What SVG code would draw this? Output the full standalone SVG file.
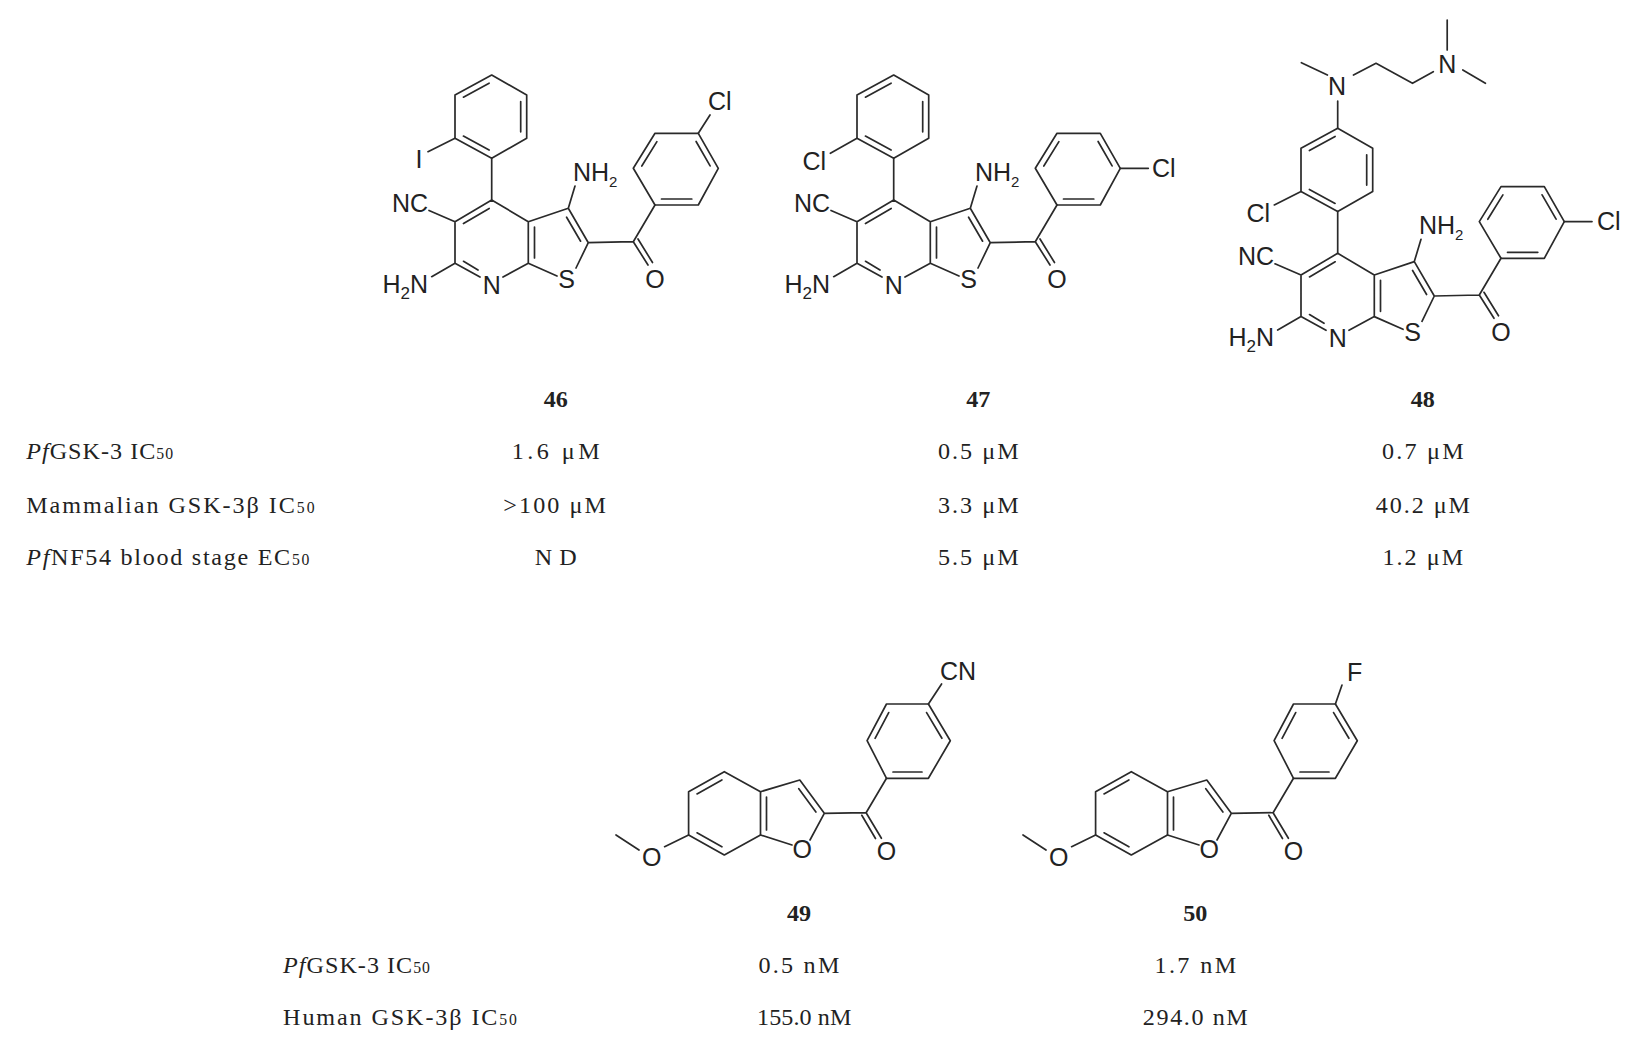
<svg xmlns="http://www.w3.org/2000/svg" xmlns:xlink="http://www.w3.org/1999/xlink" width="1644" height="1053" viewBox="0 0 1644 1053">
<style>
.b{stroke:#2a2a2a;stroke-width:1.7;fill:none;stroke-linejoin:round;stroke-linecap:round}
.a{font-family:"Liberation Sans",Arial,sans-serif;font-size:25px;fill:#222}
.t{font-family:"Liberation Serif","Times New Roman",serif;font-size:23px;fill:#222}
.n{font-weight:bold;text-anchor:middle}
.v{text-anchor:middle}
.s{font-size:15px}
</style>
<defs>
<g id="core">
<path class="b" d="M491.7,200L455,221.7L455,263.3L480,277M503,277L528.3,263.3L528.3,221.7L491.7,200M489.2,208.5L463.5,223.6M463.5,261.3L478,270M528.3,221.7L568.3,208.3L588.3,242.7L576,268M557,276L528.3,263.3M534.5,227L534.5,258M566.6,217.2L580.6,241.2M568.3,208.3L575,186M455,221.7L429,210.5M455,263.3L431.7,276.7M588.3,242.7L633.3,241.7L648,265M638,239L652.5,262.5M633.3,241.7L655,205"/>
<polygon class="b" points="655,205 698.3,205 718.3,168.3 698.3,133.3 655,133.3 633.3,168.3"/>
<path class="b" d="M661.5,199L691.8,199M710.1,165.9L696.1,141.5M656.9,141.6L641.8,166"/>
<text class="a" x="573" y="181">NH<tspan class="s" font-size="17" dy="6">2</tspan></text>
<text class="a" x="428" y="212" text-anchor="end">NC</text>
<text class="a" x="428" y="293" text-anchor="end">H<tspan font-size="17" dy="6">2</tspan><tspan dy="-6">N</tspan></text>
<text class="a" x="491.7" y="294" text-anchor="middle">N</text>
<text class="a" x="566.7" y="288" text-anchor="middle">S</text>
<text class="a" x="655" y="288" text-anchor="middle">O</text>
</g>
<g id="aryl">
<polygon class="b" points="491.7,75 526.7,95 526.7,138.3 491.7,158.3 455,138.3 455,95"/>
<path class="b" d="M463.4,97.2L489.1,83.2M520.7,101.5L520.7,131.8M463.4,136.1L489.1,150.1M491.7,158.3L491.7,200"/>
</g>
<g id="bf">
<polygon class="b" points="724.3,771.7 760.5,791.7 760.5,835 724.3,855 688.6,835 688.6,791.7"/>
<path class="b" d="M697,793.9L721.9,779.9M697,832.8L721.9,846.8M766.5,797L766.5,830M760.5,791.7L799.8,780L824.3,813.3L810,840M792,845L760.5,835M798.8,788.7L815.9,812M688.6,835L664.6,846.7M639,850L616,835M824.3,813.3L866.1,812.7L881.4,838.3M861.8,815.3L875.5,838.5M866.1,812.7L886.5,778.3"/>
<polygon class="b" points="886.5,778.3 928.4,778.3 950.3,740.7 928.4,704 886.5,704 867.1,740.7"/>
<path class="b" d="M893,772L922,772M941.9,738.3L926.6,712.6M888.7,712.6L875.1,738.3"/>
<text class="a" x="651.8" y="866" text-anchor="middle">O</text>
<text class="a" x="802.3" y="858" text-anchor="middle">O</text>
<text class="a" x="886.5" y="860" text-anchor="middle">O</text>
</g>
</defs>
<rect width="1644" height="1053" fill="#fff"/>
<g id="m46">
<use xlink:href="#core" href="#core"/>
<use xlink:href="#aryl" href="#aryl"/>
<path class="b" d="M455,138.3L428,151.7M698.3,133.3L710,115"/>
<text class="a" x="419" y="168" text-anchor="middle">I</text>
<text class="a" x="708" y="110">Cl</text>
</g>
<g id="m47">
<use xlink:href="#core" href="#core" transform="translate(402,0)"/>
<use xlink:href="#aryl" href="#aryl" transform="translate(402,0)"/>
<path class="b" d="M857,138.3L830.4,153.3M1120.3,168.3L1148.3,168.3"/>
<text class="a" x="826" y="170" text-anchor="end">Cl</text>
<text class="a" x="1152" y="177">Cl</text>
</g>
<g id="m48">
<use xlink:href="#core" href="#core" transform="translate(846,53.3)"/>
<use xlink:href="#aryl" href="#aryl" transform="translate(846,53.3)"/>
<path class="b" d="M1301,191.6L1274.3,204.9M1564.3,221.6L1592,221.6M1337.7,128.3L1337.7,101M1327.4,75L1301.4,62.7M1353.5,75L1376,63.3L1412.5,83.3L1433.3,71.7M1447.2,50L1447.2,20M1462.8,70L1485.4,83.3"/>
<text class="a" x="1270" y="221.7" text-anchor="end">Cl</text>
<text class="a" x="1597" y="230">Cl</text>
<text class="a" x="1337" y="94.5" text-anchor="middle">N</text>
<text class="a" x="1447.2" y="73.3" text-anchor="middle">N</text>
</g>
<g id="m49">
<use xlink:href="#bf" href="#bf"/>
<path class="b" d="M928.4,704L941.6,684"/>
<text class="a" x="940" y="680">CN</text>
</g>
<g id="m50">
<use xlink:href="#bf" href="#bf" transform="translate(407,0)"/>
<path class="b" d="M1335.4,704L1342,685"/>
<text class="a" x="1347" y="681">F</text>
</g>
<g id="labels" transform="scale(1.0485)">
<text class="t n" x="530" y="388">46</text>
<text class="t n" x="933" y="388">47</text>
<text class="t n" x="1357" y="388">48</text>
<text class="t" x="25" y="438" textLength="140" lengthAdjust="spacing"><tspan font-style="italic">Pf</tspan>GSK-3 IC<tspan class="s">50</tspan></text>
<text class="t" x="25" y="489" textLength="275" lengthAdjust="spacing">Mammalian GSK-3β IC<tspan class="s">50</tspan></text>
<text class="t" x="25" y="539" textLength="270" lengthAdjust="spacing"><tspan font-style="italic">Pf</tspan>NF54 blood stage EC<tspan class="s">50</tspan></text>
<text class="t v" x="530" y="438" textLength="84">1.6 μM</text>
<text class="t v" x="933" y="438" textLength="77">0.5 μM</text>
<text class="t v" x="1357" y="438" textLength="78">0.7 μM</text>
<text class="t v" x="529" y="489" textLength="98">&gt;100 μM</text>
<text class="t v" x="933" y="489" textLength="77">3.3 μM</text>
<text class="t v" x="1357" y="489" textLength="90">40.2 μM</text>
<text class="t v" x="530" y="539" textLength="40">ND</text>
<text class="t v" x="933" y="539" textLength="77">5.5 μM</text>
<text class="t v" x="1357" y="539" textLength="77">1.2 μM</text>
<text class="t n" x="762" y="878">49</text>
<text class="t n" x="1140" y="878">50</text>
<text class="t" x="270" y="928" textLength="140" lengthAdjust="spacing"><tspan font-style="italic">Pf</tspan>GSK-3 IC<tspan class="s">50</tspan></text>
<text class="t" x="270" y="978" textLength="223" lengthAdjust="spacing">Human GSK-3β IC<tspan class="s">50</tspan></text>
<text class="t v" x="762" y="928" textLength="77">0.5 nM</text>
<text class="t v" x="1140" y="928" textLength="78">1.7 nM</text>
<text class="t v" x="767" y="978" textLength="90">155.0 nM</text>
<text class="t v" x="1140" y="978" textLength="100">294.0 nM</text>
</g>
</svg>
